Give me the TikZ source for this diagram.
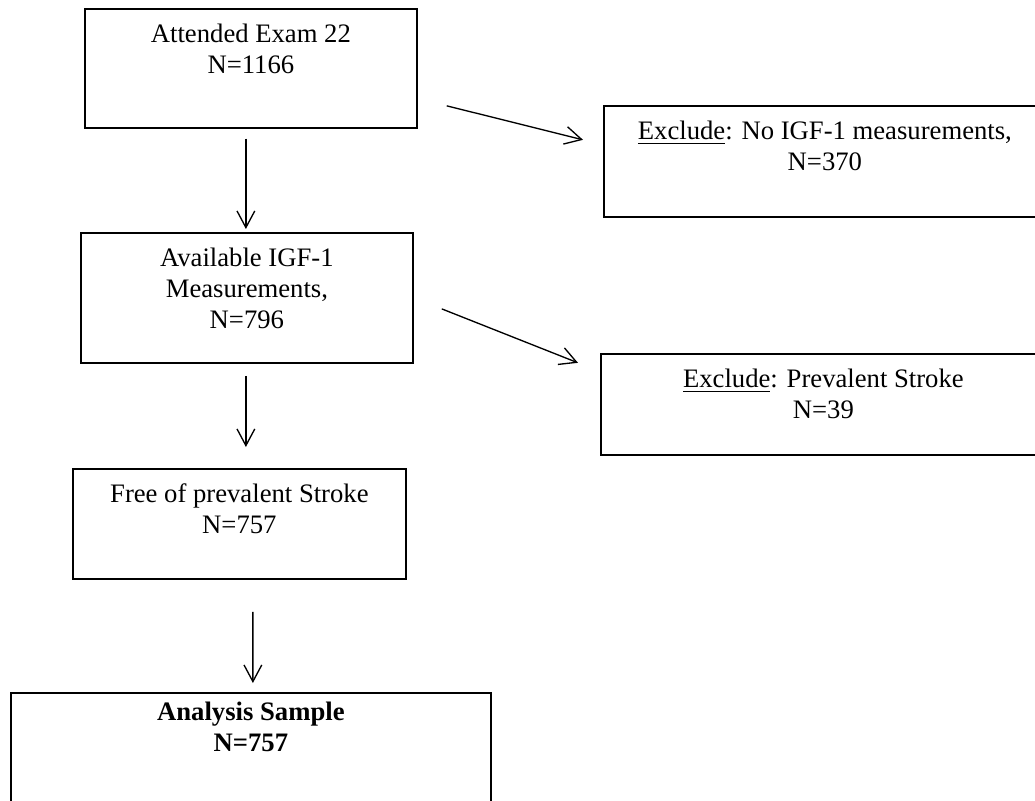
\documentclass[tikz,border=0pt]{standalone}
\usepackage{fontspec}
\setmainfont{Liberation Serif}
\usetikzlibrary{arrows.meta, calc}

\tikzset{
	flowbox/.style={draw, thick, align=center, anchor=north west, inner xsep=0pt, inner ysep=0pt, font=\fontsize{12}{13.8}\selectfont},
	flowarrow/.style={semithick, -{Straight Barb[length=7.5pt, width=8pt]}}
}

\begin{document}
\begin{tikzpicture}[x=0.45pt, y=-0.45pt]
			\useasboundingbox (0, 0) rectangle (1035, 801);
			% main column
			\node[flowbox, minimum width=149.4pt, text height=29.1pt, text depth=24.4pt] (attended) at (84, 8) {Attended Exam 22\\N=1166};
			\node[flowbox, minimum width=149.4pt, text height=42.9pt, text depth=15.6pt] (available) at (80, 232) {Available IGF-1\\Measurements,\\N=796};
			\node[flowbox, minimum width=149.85pt, text height=29.1pt, text depth=20.4pt] (nostroke) at (72, 468) {Free of prevalent Stroke\\N=757};
			\node[flowbox, minimum width=216pt, text height=26.4pt, text depth=25.65pt] (analysis) at (10, 692) {\textbf{Analysis Sample}\\\textbf{N=757}};
			% exclusions
			\node[flowbox, minimum width=198.9pt, text height=29.1pt, text depth=20.8pt] (noigf) at (603, 105) {\underline{Exclude}: No IGF-1 measurements,\\N=370};
			\node[flowbox, minimum width=200.25pt, text height=29.1pt, text depth=16.3pt] (stroke) at (600, 353) {\underline{Exclude}: Prevalent Stroke\\N=39};
			% arrows
			\draw[flowarrow] ($(attended.south)+(-5, 10)$) -- ($(available.north)+(-1, -3)$);
			\draw[flowarrow] ($(available.south)+(-1, 12)$) -- ($(nostroke.north)+(6.5, -21)$);
			\draw[flowarrow] ($(nostroke.south)+(13.5, 32)$) -- ($(analysis.north)+(2, -9)$);
			\draw[flowarrow] ($(attended.east)+(29, 37.5)$) -- ($(noigf.west)+(-20, -21.5)$);
			\draw[flowarrow] ($(available.east)+(28, 11)$) -- ($(stroke.west)+(-22, -41.5)$);
		\end{tikzpicture}
\end{document}
